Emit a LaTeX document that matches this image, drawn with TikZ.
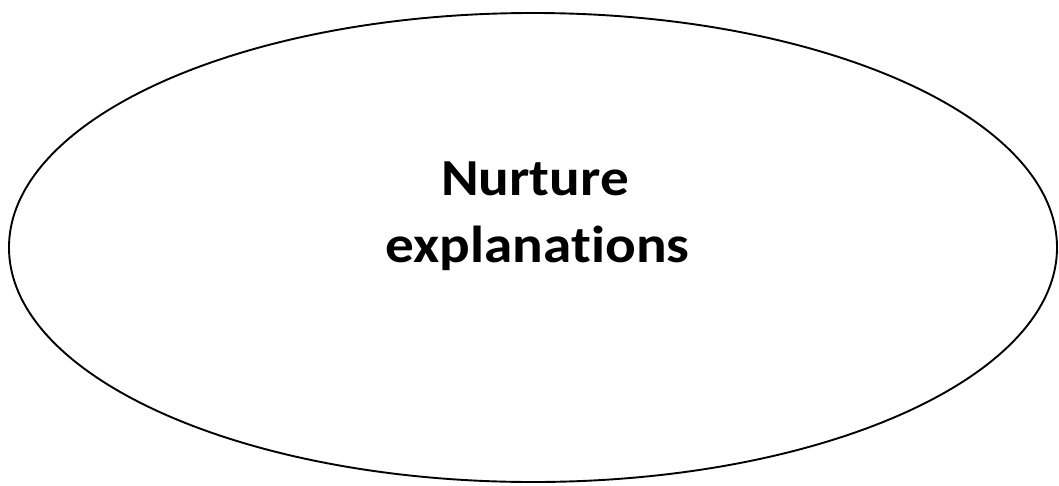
\documentclass[tikz,border=0pt]{standalone}
\usepackage{fontspec}
\setmainfont{Carlito}
\newfontfamily\headfont[FakeStretch=1.1, Ligatures=NoCommon]{Carlito}
\begin{document}
\begin{tikzpicture}[x=1pt,y=-1pt,
  oval/.style={draw=black, line width=1.9pt},
  txt/.style={font=\headfont\fontsize{52}{67}\selectfont\bfseries, inner sep=0pt}]
\useasboundingbox (0,0) rectangle (1059,485);
% the outline
\draw[oval] (533,247.5) ellipse [x radius=524, y radius=234.5];
% the two centred lines of the title
\node[txt, anchor=base] (t1) at (535,195) {Nurture};
\node[txt, anchor=base] (t2) at (537.5,262) {explanations};
\end{tikzpicture}
\end{document}
